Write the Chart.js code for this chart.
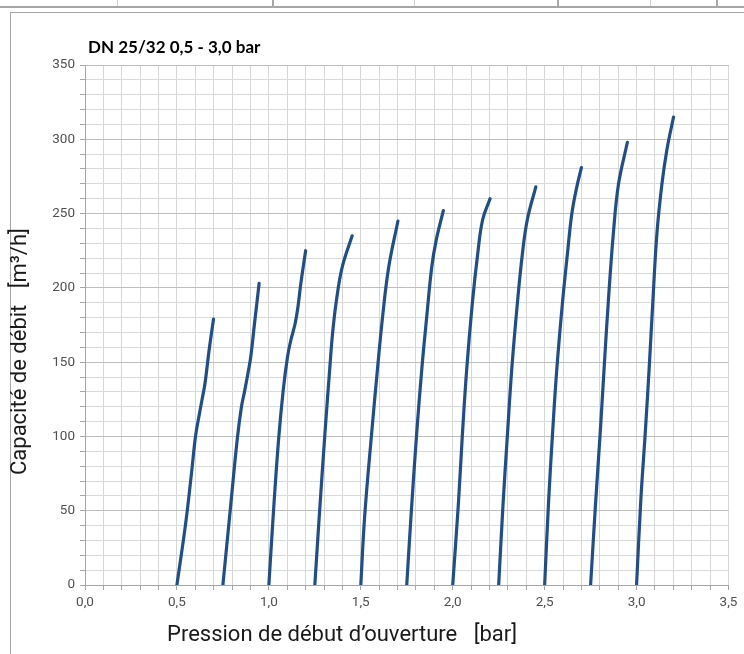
<!DOCTYPE html>
<html>
<head>
<meta charset="utf-8">
<script src="https://cdn.jsdelivr.net/npm/chart.js@4.4.1/dist/chart.umd.min.js"></script>
<style>
  html, body { margin: 0; padding: 0; background: #ffffff; }
  #wrap { position: relative; width: 744px; height: 654px; overflow: hidden; background: #fff; }
  .line { position: absolute; background: #a6a6a6; }
  #frame { position: absolute; left: 10px; top: 12px; right: -10px; bottom: -10px;
           border-left: 1.5px solid #a6a6a6; border-top: 1.5px solid #a6a6a6; }
  #chart { position: absolute; left: 0; top: 0; }
  #title { position: absolute; left: 88px; top: 37px; font-family: Lato, "Open Sans", sans-serif;
           font-weight: bold; font-size: 17px; line-height: 20px; color: #000; white-space: pre; }
  #xtitle { position: absolute; left: 167px; top: 621px; font-family: Roboto, sans-serif;
            font-size: 22px; line-height: 26px; color: #1a1a1a; white-space: pre; }
  #ytitle { position: absolute; left: 0; top: 0; font-family: Roboto, sans-serif;
            font-size: 22px; line-height: 26px; color: #1a1a1a; white-space: pre;
            transform-origin: 0 0; transform: translate(6px, 475px) rotate(-90deg); }
</style>
</head>
<body>
<div id="wrap">
  <div class="line" style="left:0;top:6px;width:744px;height:1.5px;"></div>
  <div class="line" style="left:117px;top:0;width:1px;height:6px;background:#d0d0d0;"></div>
  <div class="line" style="left:272px;top:0;width:1.5px;height:7px;"></div>
  <div class="line" style="left:414px;top:0;width:1px;height:6px;background:#d0d0d0;"></div>
  <div class="line" style="left:557px;top:0;width:1.5px;height:7px;"></div>
  <div class="line" style="left:650px;top:0;width:1px;height:6px;background:#d0d0d0;"></div>
  <div class="line" style="left:716px;top:0;width:1.5px;height:7px;"></div>
  <div id="frame"></div>
  <canvas id="chart" width="744" height="654"></canvas>
  <div id="title">DN 25/32 0,5 - 3,0 bar</div>
  <div id="xtitle">Pression de début d’ouverture   [bar]</div>
  <div id="ytitle">Capacité de débit   [m³/h]</div>
</div>
<script>
// Opening pressure (bar) and flow capacity (m³/h) for each valve setting
const pressure_050 = [0.50, 0.548, 0.579, 0.601, 0.619, 0.637, 0.653, 0.675, 0.699];
const flow_050     = [0, 42, 75, 100, 113, 125, 136, 158, 179];
const pressure_075 = [0.75, 0.792, 0.828, 0.851, 0.869, 0.887, 0.902, 0.922, 0.947];
const flow_075     = [0, 53, 98, 120, 131, 143, 154, 176, 203];
const pressure_100 = [1.00, 1.027, 1.053, 1.078, 1.102, 1.120, 1.143, 1.158, 1.174, 1.200];
const flow_100     = [0, 53, 98, 131, 154, 165, 176, 187, 203, 225];
const pressure_125 = [1.25, 1.274, 1.305, 1.332, 1.347, 1.368, 1.399, 1.453];
const flow_125     = [0, 46, 102, 147, 170, 192, 214, 235];
const pressure_150 = [1.50, 1.521, 1.559, 1.592, 1.619, 1.652, 1.702];
const flow_150     = [0, 46, 102, 147, 181, 214, 245];
const pressure_175 = [1.75, 1.773, 1.804, 1.833, 1.859, 1.886, 1.910, 1.949];
const flow_175     = [0, 46, 102, 147, 181, 214, 232, 252];
const pressure_200 = [2.00, 2.031, 2.052, 2.076, 2.107, 2.136, 2.163, 2.203];
const flow_200     = [0, 55, 100, 145, 190, 223, 246, 260];
const pressure_225 = [2.25, 2.274, 2.297, 2.321, 2.352, 2.379, 2.406, 2.452];
const flow_225     = [0, 55, 100, 145, 190, 223, 246, 268];
const pressure_250 = [2.50, 2.521, 2.542, 2.566, 2.597, 2.624, 2.648, 2.675, 2.700];
const flow_250     = [0, 55, 100, 145, 190, 223, 250, 268, 281];
const pressure_275 = [2.75, 2.778, 2.802, 2.824, 2.847, 2.874, 2.902, 2.950];
const flow_275     = [0, 57, 102, 147, 192, 237, 270, 298];
const pressure_300 = [3.00, 3.023, 3.047, 3.069, 3.089, 3.111, 3.138, 3.165, 3.201];
const flow_300     = [0, 57, 102, 147, 192, 237, 270, 293, 315];

const curves = [
  [pressure_050, flow_050], [pressure_075, flow_075], [pressure_100, flow_100],
  [pressure_125, flow_125], [pressure_150, flow_150], [pressure_175, flow_175],
  [pressure_200, flow_200], [pressure_225, flow_225], [pressure_250, flow_250],
  [pressure_275, flow_275], [pressure_300, flow_300]
];

const xMin = 0, xMax = 3.5, xStep = 0.1, xLabelEvery = 0.5;
const yMin = 0, yMax = 350, yStep = 10, yLabelEvery = 50;

const lineColor = '#1f4e8a';
const datasets = curves.map(([xs, ys]) => ({
  data: xs.map((x, i) => ({ x: x, y: ys[i] })),
  borderColor: lineColor,
  backgroundColor: lineColor,
  borderWidth: 3.2,
  pointRadius: 0,
  fill: false,
  tension: 0.4,
  borderCapStyle: 'round',
  borderJoinStyle: 'round'
}));

const isMultiple = (v, step) => Math.abs(v / step - Math.round(v / step)) < 1e-6;

new Chart(document.getElementById('chart'), {
  type: 'line',
  data: { datasets },
  options: {
    responsive: false,
    animation: false,
    devicePixelRatio: 1,
    layout: { padding: { left: 0, top: 65, right: 15.5, bottom: 39 } },
    plugins: { legend: { display: false }, tooltip: { enabled: false }, title: { display: false } },
    scales: {
      x: {
        type: 'linear',
        min: xMin, max: xMax,
        afterFit: (s) => { s.height = 30; },
        border: { display: true, color: '#a6a6a6', width: 1 },
        grid: { color: '#d6d6d6', lineWidth: 1, drawTicks: true, tickLength: 5, tickColor: '#a6a6a6' },
        ticks: {
          stepSize: xStep, autoSkip: false, maxRotation: 0, minRotation: 0, padding: 5,
          color: '#505050', font: { family: 'Roboto', size: 13.5 },
          callback: (v) => isMultiple(v, xLabelEvery) ? v.toFixed(1).replace('.', ',') : ''
        }
      },
      y: {
        type: 'linear',
        min: yMin, max: yMax,
        afterFit: (s) => { s.width = 85; },
        border: { display: true, color: '#a6a6a6', width: 1 },
        grid: {
          color: (c) => (c.tick && isMultiple(c.tick.value, yLabelEvery)) ? '#bdbdbd' : '#d9d9d9',
          lineWidth: 1, drawTicks: true, tickLength: 5, tickColor: '#a6a6a6'
        },
        ticks: {
          stepSize: yStep, autoSkip: false, padding: 5,
          color: '#505050', font: { family: 'Roboto', size: 13.5 },
          callback: (v) => isMultiple(v, yLabelEvery) ? String(v) : ''
        }
      }
    }
  }
});
</script>
</body>
</html>
